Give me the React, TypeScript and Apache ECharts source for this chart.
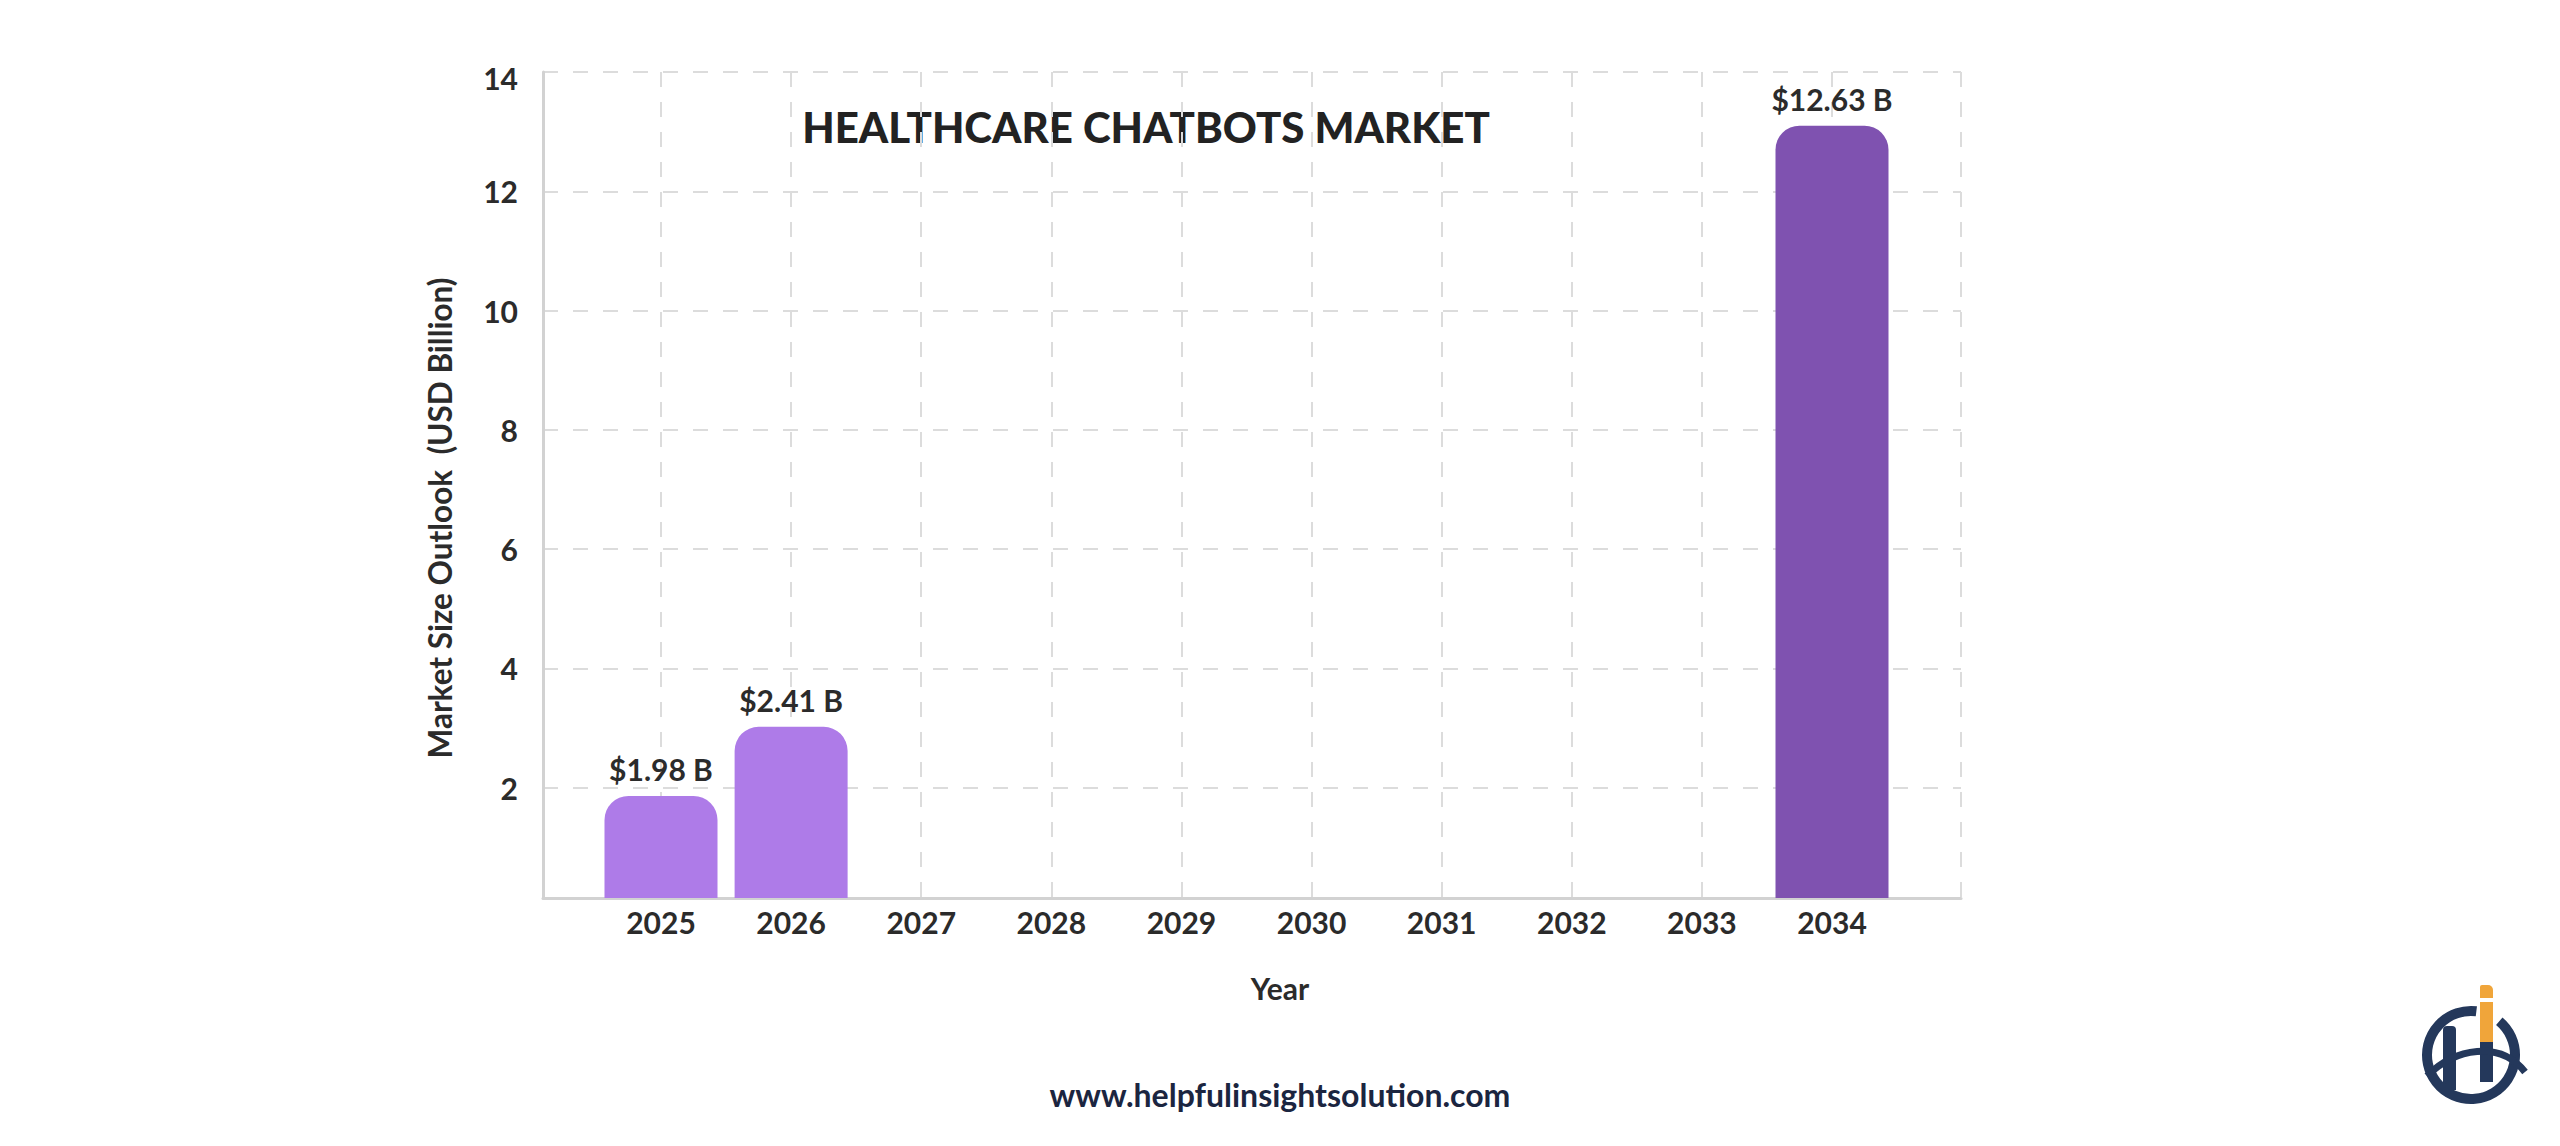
import React, { useEffect, useRef } from 'react';
import * as echarts from 'echarts';

// ---- data ----
const categories = ['2025', '2026', '2027', '2028', '2029', '2030', '2031', '2032', '2033', '2034'];
const barValues = [1.86, 3.02, null, null, null, null, null, null, null, 13.1];
const barLabels = ['$1.98 B', '$2.41 B', '', '', '', '', '', '', '', '$12.63 B'];
const yMin = 0.15;
const yMax = 14;
const yStep = 2;
const titleText = 'HEALTHCARE CHATBOTS MARKET';
const xTitle = 'Year';
const yTitle = 'Market Size Outlook  (USD Billion)';
const footerText = 'www.helpfulinsightsolution.com';

const FONT = 'Lato, "Noto Sans", sans-serif';
const LIGHT = '#ae7be8';
const DARK = '#7f52b0';
const NAVY = '#24385b';
const ORANGE = '#f0a53a';

const gridLine = { show: true, lineStyle: { color: '#dcdcdc', width: 2, type: [15, 15] } };
const axisLineStyle = { show: true, lineStyle: { color: '#d2d2d2', width: 3 } };

export default function App() {
  const ref = useRef<HTMLDivElement>(null);
  useEffect(() => {
    if (!ref.current) return;
    const chart = echarts.init(ref.current, undefined, { renderer: 'svg' });
    const option: any = {
      animation: false,
      backgroundColor: '#ffffff',
      grid: [
        { left: 543, top: 72, width: 1418, height: 826 },
        { left: 661, top: 72, width: 1171, height: 826 },
      ],
      xAxis: [
        {
          gridIndex: 0, type: 'value', min: 0, max: 1, interval: 1,
          axisLabel: { show: false }, axisTick: { show: false },
          axisLine: axisLineStyle, splitLine: gridLine,
        },
        {
          gridIndex: 1, type: 'category', data: categories, boundaryGap: false,
          axisLine: { show: false }, axisTick: { show: false },
          axisLabel: { interval: 0, margin: 9, fontSize: 30, fontWeight: 'bold', color: '#2b2b2b', fontFamily: FONT },
          splitLine: { ...gridLine, interval: 0 },
        },
      ],
      yAxis: [
        {
          gridIndex: 0, type: 'value', min: yMin, max: yMax, splitNumber: 7,
          minInterval: yStep, maxInterval: yStep,
          axisLine: axisLineStyle, axisTick: { show: false },
          axisLabel: {
            margin: 25, fontSize: 30, fontWeight: 'bold', color: '#2b2b2b', fontFamily: FONT,
            formatter: (v: number) => {
              if (Math.abs(v - Math.round(v)) > 1e-6) return '';
              if (v === yMax) return '{t|' + v + '}';
              return String(v);
            },
            rich: { t: { fontSize: 30, fontWeight: 'bold', color: '#2b2b2b', fontFamily: FONT, padding: [12, 0, 0, 0] } },
          },
          splitLine: gridLine,
        },
        { gridIndex: 1, type: 'value', min: yMin, max: yMax, startValue: yMin, show: false },
      ],
      series: [
        {
          type: 'bar', xAxisIndex: 1, yAxisIndex: 1, data: barValues, barWidth: 113, clip: false,
          itemStyle: {
            borderRadius: [24, 24, 0, 0],
            color: (p: any) => (p.dataIndex === categories.length - 1 ? DARK : LIGHT),
          },
          label: {
            show: true, position: 'top', distance: 12,
            formatter: (p: any) => barLabels[p.dataIndex] || '',
            fontSize: 30, fontWeight: 'bold', color: '#2b2b2b', fontFamily: FONT,
          },
        },
      ],
      graphic: [
        {
          type: 'text', x: 1146, y: 127,
          style: { text: titleText, align: 'center', verticalAlign: 'middle', fontSize: 42, fontWeight: 900, fontFamily: FONT, fill: '#222222' },
        },
        {
          type: 'text', x: 1280, y: 988,
          style: { text: xTitle, align: 'center', verticalAlign: 'middle', fontSize: 30, fontWeight: 'bold', fontFamily: FONT, fill: '#2b2b2b' },
        },
        {
          type: 'text', x: 440, y: 518, rotation: Math.PI / 2,
          style: { text: yTitle, align: 'center', verticalAlign: 'middle', fontSize: 31.5, fontWeight: 'bold', fontFamily: FONT, fill: '#2b2b2b' },
        },
        {
          type: 'text', x: 1280, y: 1094,
          style: { text: footerText, align: 'center', verticalAlign: 'middle', fontSize: 32, fontWeight: 'bold', fontFamily: FONT, fill: '#1b2540' },
        },
        // logo
        {
          type: 'arc',
          shape: { cx: 2471, cy: 1055, r: 44, startAngle: (-50 * Math.PI) / 180, endAngle: (277 * Math.PI) / 180, clockwise: true },
          style: { stroke: NAVY, lineWidth: 10, fill: 'none' },
        },
        { type: 'rect', shape: { x: 2443, y: 1026, width: 13, height: 64, r: [4, 4, 0, 0] }, style: { fill: NAVY } },
        { type: 'rect', shape: { x: 2480, y: 1042, width: 13, height: 40 }, style: { fill: NAVY } },
        { type: 'rect', shape: { x: 2480, y: 1002, width: 13, height: 40 }, style: { fill: ORANGE } },
        { type: 'rect', shape: { x: 2480, y: 985, width: 13, height: 13, r: [2, 5, 0, 0] }, style: { fill: ORANGE } },
        {
          type: 'bezierCurve',
          shape: { x1: 2427, y1: 1076, cpx1: 2455, cpy1: 1048, cpx2: 2500, cpy2: 1040, x2: 2525, y2: 1072 },
          style: { stroke: NAVY, lineWidth: 7, fill: 'none' },
        },
      ],
    };
    chart.setOption(option);
    return () => chart.dispose();
  }, []);
  return <div ref={ref} style={{ position: 'fixed', left: 0, top: 0, width: 2560, height: 1146 }} />;
}
